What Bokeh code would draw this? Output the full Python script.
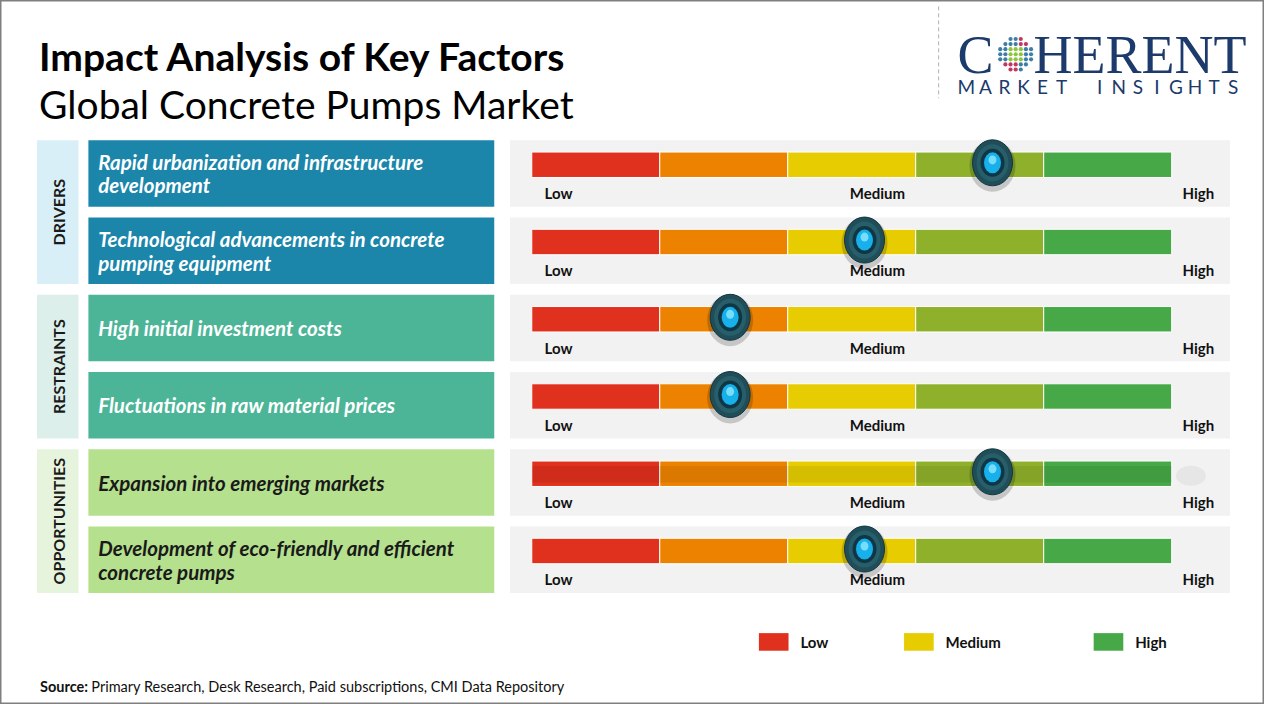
import math
from bokeh.plotting import figure
from bokeh.models import Range1d, ColumnDataSource
from bokeh.core.properties import value
from bokeh.embed import file_html
from bokeh.resources import INLINE

# ---------------- data ----------------
TITLE = "Impact Analysis of Key Factors"
SUBTITLE = "Global Concrete Pumps Market"
categories = ["DRIVERS", "RESTRAINTS", "OPPORTUNITIES"]
factor_category = [0, 0, 1, 1, 2, 2]
factors = [
    "Rapid urbanization and infrastructure\ndevelopment",
    "Technological advancements in concrete\npumping equipment",
    "High initial investment costs",
    "Fluctuations in raw material prices",
    "Expansion into emerging markets",
    "Development of eco-friendly and efficient\nconcrete pumps",
]
impact = [72, 52, 31, 31, 72, 52]          # 0 = Low ... 100 = High
scale_labels = ["Low", "Medium", "High"]
segment_edges = [0, 20, 40, 60, 80, 100]
segment_colors = ["#e0301e", "#ec8200", "#e6cc00", "#8fb02a", "#46a846"]
legend_labels = ["Low", "Medium", "High"]
legend_colors = ["#e0301e", "#e6cc00", "#46a846"]
SOURCE_LABEL = "Source:"
SOURCE_TEXT = "Primary Research, Desk Research, Paid subscriptions, CMI Data Repository"

# ---------------- styles ----------------
strip_colors = ["#d9eff8", "#dcefea", "#e7f4dd"]
box_colors = ["#1b86aa", "#4db597", "#b5e08e"]
box_text_colors = ["#ffffff", "#ffffff", "#1a1a1a"]
NAVY = "#1c3a6b"
FONT = "Lato"

p = figure(width=1264, height=704, x_range=Range1d(0, 1280), y_range=Range1d(720, 0),
           output_backend="svg", toolbar_location=None, min_border=0,
           x_axis_location=None, y_axis_location=None)
p.grid.visible = False
p.outline_line_color = "#808080"
p.outline_line_width = 2
p.background_fill_color = "white"
p.border_fill_color = "white"

# gauge scale: value 0 at x=538, value 100 at x=1186 (reference pixels)
GX0, GX1 = 538, 1186
kx = (GX1 - GX0) / 100.0
p.extra_x_ranges = {"gauge": Range1d(-GX0 / kx, (1280 - GX0) / kx)}

ROW_TOP0, ROW_STEP, ROW_H = 143, 79, 68
tops = [ROW_TOP0 + i * ROW_STEP for i in range(len(factors))]

# ---------------- title ----------------
p.text(x=[39], y=[57], text=[TITLE], text_font=value(FONT), text_font_style="bold",
       text_font_size="39px", text_color="#000000", text_baseline="middle")
p.text(x=[39], y=[106], text=[SUBTITLE], text_font=value(FONT),
       text_font_size="39px", text_color="#000000", text_baseline="middle")

# ---------------- logo ----------------
p.line(x=[950, 950], y=[6, 100], line_color="#b0b0b0", line_dash="4 3", line_width=1)
p.text(x=[969], y=[56], text=["C"], text_font=value("Liberation Serif"),
       text_font_size="54px", text_color=NAVY, text_baseline="middle")
p.text(x=[1046], y=[56], text=["HERENT"], text_font=value("Liberation Serif"),
       text_font_size="54px", text_color=NAVY, text_baseline="middle")
gx, gy, gcol = [], [], []
cx, cy = 1028, 55
for i in range(-3, 4):
    for j in range(-3, 4):
        dx, dy = i * 5.2, j * 5.2
        r = math.hypot(dx, dy)
        if r > 17:
            continue
        if r < 8:
            c = "#8cc63f"
        elif (j >= 2 and i <= 0) or (j <= -2 and i >= 1):
            c = "#c2375f"
        else:
            c = "#3d7ea6"
        gx.append(cx + dx); gy.append(cy + dy); gcol.append(c)
p.scatter(x=gx, y=gy, size=4.2, fill_color=gcol, line_color=None)
letters = list("MARKET") + [""] + list("INSIGHTS")
lx = [978 + i * 19.3 for i in range(len(letters))]
p.text(x=lx, y=[88] * len(letters), text=letters, text_font=value(FONT),
       text_font_size="19px", text_color=NAVY, text_align="center", text_baseline="middle")

# ---------------- category strips ----------------
for c, name in enumerate(categories):
    rows = [i for i, fc in enumerate(factor_category) if fc == c]
    t = tops[rows[0]]
    b = tops[rows[-1]] + ROW_H
    p.quad(left=37, right=79, top=t, bottom=b, fill_color=strip_colors[c], line_color=None)
    p.text(x=[59], y=[(t + b) / 2], text=[name], angle=math.pi / 2, text_font=value(FONT),
           text_font_style="bold", text_font_size="16px", text_color="#1a1a1a",
           text_align="center", text_baseline="middle")

# ---------------- factor boxes ----------------
src = ColumnDataSource(dict(
    top=tops,
    bottom=[t + ROW_H for t in tops],
    mid=[t + ROW_H / 2 for t in tops],
    color=[box_colors[c] for c in factor_category],
    tcolor=[box_text_colors[c] for c in factor_category],
    label=factors,
))
p.quad(left=89, right=500, top="top", bottom="bottom", fill_color="color", line_color=None, source=src)
p.text(x=99, y="mid", text="label", text_color="tcolor", text_font=value(FONT),
       text_font_style="bold italic", text_font_size="20.5px", text_line_height=0.98,
       text_baseline="middle", source=src)

# ---------------- gauges ----------------
p.quad(left=516, right=1245, top="top", bottom="bottom", fill_color="#f2f2f2",
       line_color=None, source=src)
for i, t in enumerate(tops):
    p.quad(left=segment_edges[:-1], right=segment_edges[1:], top=t + 12, bottom=t + 38,
           fill_color=segment_colors, line_color="white", line_width=1, x_range_name="gauge")
    if i == 4:
        p.quad(left=[0], right=[100], top=[t + 17], bottom=[t + 34], fill_color="#000000",
               fill_alpha=0.07, line_color=None, x_range_name="gauge")
        p.ellipse(x=[103], y=[t + 27], width=30, height=20, width_units="screen",
                  height_units="screen", fill_color="#b0b0b0", fill_alpha=0.18,
                  line_color=None, x_range_name="gauge")
    p.text(x=[551], y=[t + 54], text=[scale_labels[0]], text_font=value(FONT),
           text_font_style="bold", text_font_size="15px", text_color="#111111",
           text_baseline="middle")
    p.text(x=[888], y=[t + 54], text=[scale_labels[1]], text_font=value(FONT),
           text_font_style="bold", text_font_size="15px", text_color="#111111",
           text_align="center", text_baseline="middle")
    p.text(x=[1197], y=[t + 54], text=[scale_labels[2]], text_font=value(FONT),
           text_font_style="bold", text_font_size="15px", text_color="#111111",
           text_baseline="middle")

knob_y = [t + 23 for t in tops]
knob_sh = [t + 26 for t in tops]
hl_y = [t + 20 for t in tops]
kw = dict(width_units="screen", height_units="screen", x_range_name="gauge")
p.ellipse(x=impact, y=knob_sh, width=46, height=52, fill_color="#000000", fill_alpha=0.18,
          line_color=None, **kw)
p.ellipse(x=impact, y=knob_y, width=40, height=46, fill_color="#1f4e59",
          line_color="#123540", line_width=1, **kw)
p.ellipse(x=impact, y=knob_y, width=32, height=37, fill_color="#2b6571",
          line_color=None, fill_alpha=0.7, **kw)
p.ellipse(x=impact, y=knob_y, width=24, height=28, fill_color="#0f3644", line_color=None, **kw)
p.ellipse(x=impact, y=knob_y, width=17, height=21, fill_color="#17b0ea", line_color=None, **kw)
p.ellipse(x=impact, y=hl_y, width=8, height=9, fill_color="#8fe8ff", fill_alpha=0.8,
          line_color=None, **kw)

# ---------------- legend ----------------
leg_x = [768, 915, 1107]
for lxv, lab, col in zip(leg_x, legend_labels, legend_colors):
    p.quad(left=lxv, right=lxv + 30, top=647, bottom=665, fill_color=col, line_color=None)
    p.text(x=[lxv + 42], y=[656], text=[lab], text_font=value(FONT), text_font_style="bold",
           text_font_size="15px", text_color="#111111", text_baseline="middle")

# ---------------- source ----------------
p.text(x=[40], y=[702], text=[SOURCE_LABEL], text_font=value(FONT), text_font_style="bold",
       text_font_size="14.5px", text_color="#111111", text_baseline="middle")
p.text(x=[92], y=[702], text=[SOURCE_TEXT], text_font=value(FONT),
       text_font_size="14.5px", text_color="#111111", text_baseline="middle")

open("out.html", "w").write(file_html(p, INLINE))
